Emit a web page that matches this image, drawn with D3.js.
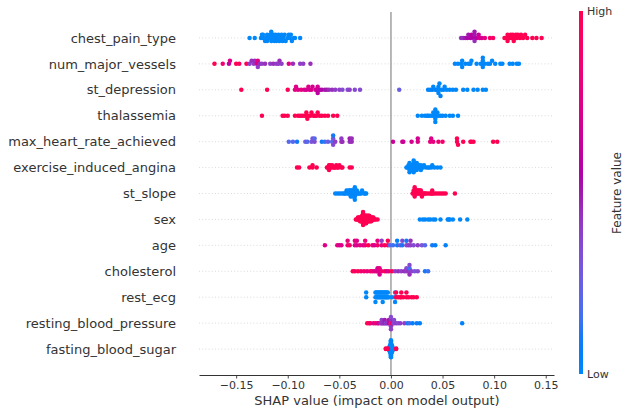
<!DOCTYPE html>
<html><head><meta charset="utf-8">
<script src="https://cdn.jsdelivr.net/npm/d3@7"></script>
<style>body{margin:0;background:#fff}svg{display:block;font-family:"DejaVu Sans",sans-serif}</style>
</head><body><svg id="c" width="632" height="416"></svg>
<script>
const features = ["chest_pain_type","num_major_vessels","st_depression","thalassemia","max_heart_rate_achieved","exercise_induced_angina","st_slope","sex","age","cholesterol","rest_ecg","resting_blood_pressure","fasting_blood_sugar"];
const xTicks = [-0.15,-0.10,-0.05,0.00,0.05,0.10,0.15];
const xLabel = "SHAP value (impact on model output)";
const cbLabels = ["Low","High"];
const cbTitle = "Feature value";

// [shap value, normalised feature value]
const chest_pain_type = [[-0.137,0],[-0.132,0],[-0.126,0],[-0.125,0],[-0.124,0],[-0.124,0],[-0.122,0],[-0.121,0],[-0.120,0],[-0.120,0],[-0.118,0],[-0.117,0],[-0.116,0],[-0.116,0],[-0.115,0],[-0.114,0],[-0.113,0],[-0.112,0],[-0.112,0],[-0.111,0],[-0.110,0],[-0.109,0],[-0.108,0],[-0.107,0],[-0.106,0],[-0.105,0],[-0.104,0],[-0.103,0],[-0.102,0],[-0.100,0],[-0.099,0],[-0.098,0],[-0.097,0],[-0.096,0],[-0.094,0],[-0.093,0],[-0.088,0],
[0.068,0.45],[0.070,0.45],[0.072,0.5],[0.074,0.55],[0.075,0.5],[0.077,0.55],[0.078,0.6],[0.080,0.55],[0.081,0.5],[0.081,0.45],[0.081,0.5],[0.083,0.6],[0.085,0.65],[0.086,0.7],[0.088,0.7],[0.091,0.8],[0.096,0.9],[0.099,0.95],
[0.110,1],[0.112,1],[0.113,1],[0.113,1],[0.115,1],[0.116,1],[0.117,1],[0.118,1],[0.119,1],[0.120,1],[0.121,1],[0.122,1],[0.123,1],[0.125,1],[0.126,1],[0.128,1],[0.130,1],[0.132,1],[0.137,1],[0.141,1],[0.146,1]];
const num_major_vessels = [[-0.171,1],[-0.163,0.85],[-0.157,0.6],[-0.156,0.75],[-0.150,1],[-0.147,0.95],[-0.140,1],[-0.137,0.4],[-0.135,0.45],[-0.133,0.4],[-0.132,0.45],[-0.130,0.75],[-0.129,0.75],[-0.129,0.4],[-0.127,0.45],[-0.125,0.4],[-0.122,0.45],[-0.117,0.4],[-0.114,0.45],[-0.111,0.4],[-0.109,0.4],[-0.108,0.45],[-0.106,0.4],[-0.099,0.75],[-0.095,0.45],[-0.088,0.4],[-0.085,0.4],[-0.078,0.45],
[0.062,0],[0.065,0],[0.068,0],[0.069,0],[0.069,0],[0.072,0],[0.075,0],[0.077,0],[0.078,0],[0.083,0],[0.087,0],[0.089,0],[0.089,0],[0.089,0],[0.089,0],[0.091,0],[0.094,0],[0.096,0],[0.098,0],[0.101,0],[0.106,0],[0.108,0],[0.115,0],[0.118,0],[0.122,0],[0.124,0]];
const st_depression = [[-0.145,1],[-0.120,1],[-0.100,1],[-0.093,0.8],[-0.092,0.75],[-0.090,0.75],[-0.087,0.8],[-0.084,0.75],[-0.082,0.7],[-0.080,0.75],[-0.079,0.7],[-0.077,0.75],[-0.076,0.7],[-0.073,0.7],[-0.072,0.65],[-0.071,0.7],[-0.071,0.6],[-0.069,0.6],[-0.067,0.55],[-0.064,0.5],[-0.062,0.5],[-0.060,0.45],[-0.057,0.45],[-0.054,0.4],[-0.050,0.4],[-0.047,0.35],[-0.042,0.35],[-0.040,0.4],[-0.035,0.35],[-0.030,0.35],
[0.008,0.25],[0.036,0.05],[0.038,0],[0.040,0.05],[0.041,0],[0.043,0],[0.044,0.05],[0.046,0],[0.046,0],[0.046,0],[0.047,0],[0.048,0.05],[0.049,0],[0.051,0],[0.052,0],[0.054,0],[0.057,0],[0.060,0],[0.063,0],[0.070,0],[0.074,0],[0.080,0],[0.084,0],[0.089,0],[0.092,0]];
const thalassemia = [[-0.125,1],[-0.105,1],[-0.103,1],[-0.100,1],[-0.093,1],[-0.090,1],[-0.088,1],[-0.086,0.95],[-0.084,1],[-0.082,1],[-0.082,1],[-0.081,1],[-0.080,1],[-0.078,1],[-0.077,1],[-0.075,1],[-0.074,1],[-0.072,1],[-0.071,1],[-0.069,1],[-0.067,1],[-0.064,1],[-0.061,1],[-0.056,1],[-0.052,1],
[0.026,0],[0.030,0],[0.033,0],[0.035,0],[0.036,0],[0.038,0],[0.040,0],[0.041,0],[0.042,0],[0.043,0],[0.043,0],[0.043,0],[0.043,0],[0.044,0],[0.045,0],[0.046,0],[0.048,0],[0.050,0],[0.053,0],[0.057,0],[0.060,0],[0.065,0]];
const max_heart_rate_achieved = [[-0.099,0.2],[-0.095,0.2],[-0.091,0.1],[-0.083,0.25],[-0.081,0.2],[-0.077,0.3],[-0.076,0.3],[-0.074,0.35],[-0.074,0.2],[-0.067,0.1],[-0.064,0.15],[-0.061,0.25],[-0.057,0.2],[-0.056,0.3],[-0.056,0.35],[-0.056,0.1],[-0.054,0.4],[-0.048,0.45],[-0.048,0.4],[-0.047,0.45],[-0.040,0.45],[-0.040,0.5],[-0.038,0.45],[-0.038,0.45],
[0.002,0.65],[0.011,0.7],[0.012,0.65],[0.020,0.7],[0.026,0.75],[0.026,0.7],[0.038,0.8],[0.039,0.75],[0.041,0.8],[0.046,0.85],[0.050,0.9],[0.064,0.95],[0.064,1],[0.065,1],[0.070,1],[0.077,0.95],[0.078,1],[0.080,1],[0.099,1],[0.103,1]];
const exercise_induced_angina = [[-0.091,1],[-0.089,1],[-0.079,1],[-0.076,1],[-0.076,1],[-0.072,1],[-0.062,1],[-0.061,1],[-0.060,1],[-0.060,1],[-0.059,1],[-0.059,1],[-0.058,1],[-0.057,1],[-0.056,1],[-0.055,1],[-0.054,1],[-0.053,1],[-0.052,1],[-0.051,1],[-0.050,1],[-0.048,1],[-0.047,1],[-0.040,1],[-0.038,1],
[0.015,0],[0.016,0],[0.017,0],[0.017,0],[0.018,0],[0.018,0],[0.018,0],[0.019,0],[0.019,0],[0.019,0],[0.020,0],[0.020,0],[0.021,0],[0.021,0],[0.021,0],[0.022,0],[0.022,0],[0.022,0],[0.023,0],[0.023,0],[0.023,0],[0.024,0],[0.024,0],[0.025,0],[0.025,0],[0.026,0],[0.026,0],[0.027,0],[0.027,0],[0.028,0],[0.029,0],[0.029,0],[0.030,0],[0.031,0],[0.032,0],[0.034,0],[0.036,0],[0.037,0],[0.039,0],[0.040,0],[0.042,0],[0.045,0],[0.048,0]];
const st_slope = [[-0.054,0],[-0.052,0],[-0.050,0.05],[-0.048,0],[-0.046,0],[-0.045,0],[-0.044,0],[-0.043,0.05],[-0.042,0],[-0.041,0],[-0.041,0],[-0.040,0],[-0.040,0],[-0.039,0],[-0.039,0.05],[-0.039,0],[-0.038,0],[-0.038,0],[-0.037,0],[-0.037,0],[-0.037,0],[-0.036,0],[-0.036,0],[-0.035,0],[-0.035,0],[-0.035,0],[-0.034,0],[-0.034,0],[-0.033,0],[-0.033,0],[-0.032,0],[-0.031,0],[-0.030,0],[-0.029,0],[-0.028,0],[-0.026,0],[-0.025,0],[-0.024,0],
[0.021,1],[0.022,1],[0.022,1],[0.023,1],[0.023,1],[0.024,1],[0.024,1],[0.025,1],[0.025,1],[0.026,1],[0.026,1],[0.027,1],[0.027,1],[0.028,1],[0.028,1],[0.029,1],[0.029,1],[0.030,1],[0.031,1],[0.032,1],[0.033,1],[0.034,1],[0.036,1],[0.038,1],[0.039,1],[0.040,1],[0.040,1],[0.041,1],[0.043,1],[0.045,1],[0.047,1],[0.049,1],[0.051,1],[0.053,1],[0.062,1]];
const sex = [[-0.034,1],[-0.033,1],[-0.032,1],[-0.032,1],[-0.031,1],[-0.031,1],[-0.030,1],[-0.030,1],[-0.030,1],[-0.029,1],[-0.029,1],[-0.029,1],[-0.028,1],[-0.028,1],[-0.028,1],[-0.028,1],[-0.027,1],[-0.027,1],[-0.027,1],[-0.027,1],[-0.026,1],[-0.026,1],[-0.026,1],[-0.026,1],[-0.026,1],[-0.025,1],[-0.025,1],[-0.025,1],[-0.025,1],[-0.025,1],[-0.024,1],[-0.024,1],[-0.024,1],[-0.024,1],[-0.024,1],[-0.023,1],[-0.023,1],[-0.023,1],[-0.023,1],[-0.022,1],[-0.022,1],[-0.022,1],[-0.022,1],[-0.021,1],[-0.021,1],[-0.021,1],[-0.021,1],[-0.020,1],[-0.020,1],[-0.020,1],[-0.019,1],[-0.019,1],[-0.019,1],[-0.018,1],[-0.018,1],[-0.017,1],[-0.017,1],[-0.016,1],[-0.015,1],[-0.013,1],
[0.028,0],[0.031,0],[0.033,0],[0.036,0],[0.038,0],[0.041,0],[0.043,0],[0.048,0],[0.055,0],[0.056,0],[0.057,0],[0.060,0],[0.067,0],[0.074,0]];
const age = [[-0.064,0.75],[-0.052,0.8],[-0.050,0.7],[-0.048,0.75],[-0.042,0.85],[-0.042,0.8],[-0.040,0.9],[-0.035,0.75],[-0.035,0.8],[-0.033,0.7],[-0.033,0.75],[-0.030,0.8],[-0.027,0.75],[-0.025,0.8],[-0.025,0.85],[-0.022,1],[-0.018,0.85],[-0.016,0.7],[-0.013,0.9],[-0.013,0.8],[-0.009,0.8],[-0.009,0.4],[-0.006,1],[-0.003,0.95],[-0.003,1],[-0.001,0.2],[0.002,0.15],[0.006,0.1],[0.006,0.05],[0.009,0.3],[0.011,0.1],[0.011,0.35],[0.015,0.35],[0.015,0.1],[0.017,0.4],[0.019,0.4],[0.019,0.45],[0.022,0.35],[0.026,0.4],[0.030,0.3],[0.033,0.2],[0.040,0.1],[0.043,0.05],[0.053,0.05]];
const cholesterol = [[-0.037,1],[-0.035,0.9],[-0.032,1],[-0.029,0.85],[-0.026,0.9],[-0.023,0.8],[-0.020,0.9],[-0.018,0.85],[-0.016,0.75],[-0.014,0.8],[-0.013,0.75],[-0.013,0.7],[-0.011,0.75],[-0.011,0.8],[-0.011,0.7],[-0.009,0.85],[-0.006,1],[-0.004,0.7],[-0.002,0.8],[0.001,1],[0.004,0.4],[0.007,0.45],[0.010,0.4],[0.013,0.45],[0.015,0.4],[0.015,0.35],[0.017,0.45],[0.018,0.4],[0.018,0.15],[0.018,0.45],[0.018,0.35],[0.020,0.4],[0.023,0.3],[0.026,0.35],[0.033,0.1],[0.036,0.15]];
const rest_ecg = [[-0.024,0],[-0.024,0],[-0.015,0],[-0.015,0],[-0.015,0],[-0.014,0],[-0.014,0],[-0.013,0],[-0.013,0],[-0.012,0],[-0.012,0],[-0.011,0],[-0.011,0],[-0.010,0],[-0.010,0],[-0.009,0],[-0.009,0],[-0.008,0],[-0.008,0],[-0.008,0],[-0.007,0],[-0.007,0],[-0.006,0],[-0.006,0],[-0.005,0],[-0.005,0],[-0.004,0],[-0.004,0],[-0.003,0],[-0.003,0],[-0.002,0],[0.001,0],[0.004,0],[0.004,0],[0.004,0],
[0.005,1],[0.005,1],[0.007,1],[0.009,1],[0.010,1],[0.010,1],[0.012,1],[0.015,1],[0.015,1],[0.017,1],[0.020,1],[0.022,1],[0.025,1]];
const resting_blood_pressure = [[-0.023,1],[-0.021,0.95],[-0.020,0.9],[-0.017,0.75],[-0.015,0.85],[-0.013,0.7],[-0.012,0.75],[-0.010,0.45],[-0.009,0.4],[-0.009,0.4],[-0.008,0.45],[-0.007,0.4],[-0.006,0.5],[-0.006,0.5],[-0.005,0.35],[-0.004,0.45],[-0.003,0.4],[-0.002,0.5],[-0.002,0.5],[-0.001,0.7],[0.000,0.4],[0.000,0.45],[0.000,0.4],[0.000,0.35],[0.000,0.4],[0.001,1],[0.002,0.45],[0.003,0.35],[0.003,0.35],[0.005,0.4],[0.007,0.35],[0.009,0.4],[0.013,0.4],[0.016,0.1],[0.018,0.15],[0.021,0.05],[0.025,0.1],[0.028,0.05],[0.069,0.05]];
const fasting_blood_sugar = [[0.000,0],[0.000,0],[0.000,0],[0.000,0],[0.000,0],[0.000,0],[0.000,0],[0.000,0],[0.000,0],[0.000,0],[0.000,0],[0.000,0],[0.000,0],[0.000,0],[0.000,0],[0.000,0],[0.000,0],[0.000,0],[0.000,0],[0.000,0],[0.000,0],[0.000,0],[0.000,0],[0.000,0],[0.000,0],[0.000,0],[0.000,0],[0.000,0],[0.000,0],[0.000,0],
[-0.001,0],[-0.001,0],[-0.001,0],[-0.001,0],[-0.001,0],[-0.001,0],[-0.001,0],[-0.001,0],[-0.001,0],[-0.001,0],[-0.001,0],[-0.001,0],
[0.001,0],[0.001,0],[0.001,0],[0.001,0],[0.001,0],[0.001,0],[0.001,0],[0.001,0],[0.001,0],[0.001,0],[0.001,0],[0.001,0],
[-0.002,0],[-0.002,0],[-0.002,0],[0.002,0],[0.002,0],[0.002,0],
[-0.005,1],[-0.005,1],[-0.003,1],[-0.003,1],[0.005,1],[0.005,1]];

const rows = [chest_pain_type,num_major_vessels,st_depression,thalassemia,max_heart_rate_achieved,exercise_induced_angina,st_slope,sex,age,cholesterol,rest_ecg,resting_blood_pressure,fasting_blood_sugar];

// SHAP red_blue colormap (LCH interpolation)
function shapColor(t){
  const h = 266.93 + t*(380.32-266.93);
  const c = 70 + 20*t;
  const l = t <= 0.5 ? 54 - 28*t : 40 + 28*(t-0.5);
  return d3.hcl(h % 360, c, l).formatHex();
}

// SHAP beeswarm layout
function beeswarm(vals){
  const N = vals.length, nbins = 100;
  const mn = d3.min(vals), mx = d3.max(vals);
  const quant = vals.map(v => Math.round(nbins*(v-mn)/(mx-mn+1e-8)));
  const inds = d3.range(N).sort((a,b) => quant[a]-quant[b] || a-b);
  const ys = new Array(N).fill(0);
  let layer = 0, last = -1;
  for (const i of inds){
    if (quant[i] !== last) layer = 0;
    ys[i] = Math.ceil(layer/2) * ((layer%2)*2-1);
    layer++; last = quant[i];
  }
  const m = d3.max(ys) + 1;
  return ys.map(y => y*0.9*(0.4/m));
}

const svg = d3.select("#c");
const n = features.length;
const x = d3.scaleLinear().domain([-0.186, 0.158]).range([199, 554]);
const y = d3.scaleLinear().domain([-1, n]).range([375, 12]);
const txt = "#333333";

// grid lines
features.forEach((f,i) => {
  const pos = n-1-i;
  svg.append("line").attr("x1",x.range()[0]).attr("x2",x.range()[1])
    .attr("y1",y(pos)).attr("y2",y(pos))
    .attr("stroke","#cccccc").attr("stroke-width",0.7).attr("stroke-dasharray","1,2.2");
});
// zero line
svg.append("line").attr("x1",x(0)).attr("x2",x(0)).attr("y1",y(n)).attr("y2",y(-1))
  .attr("stroke","#a6a6a6").attr("stroke-width",1.6);

// dots
rows.forEach((data,i) => {
  const pos = n-1-i;
  const offs = beeswarm(data.map(d=>d[0]));
  svg.append("g").selectAll("circle").data(data).join("circle")
    .attr("cx", d => x(d[0]))
    .attr("cy", (d,k) => y(pos + offs[k]))
    .attr("r", 2.25)
    .attr("fill", d => shapColor(d[1]));
});

// feature labels
svg.append("g").selectAll("text").data(features).join("text")
  .attr("x",176).attr("y",(d,i)=>y(n-1-i)).attr("dy","0.36em")
  .attr("text-anchor","end").attr("font-size",13).attr("fill",txt).text(d=>d);

// x axis
const ax = svg.append("g").attr("transform","translate(0,375)")
  .call(d3.axisBottom(x).tickValues(xTicks).tickFormat(d3.format(".2f")).tickSize(3.5).tickSizeOuter(0).tickPadding(2.8));
ax.select(".domain").attr("stroke",txt).attr("stroke-width",1);
ax.selectAll(".tick line").attr("stroke",txt).attr("stroke-width",0.9);
ax.selectAll(".tick text").attr("fill",txt).attr("font-size",11).attr("font-family","DejaVu Sans");
svg.append("text").attr("x",377).attr("y",405).attr("text-anchor","middle")
  .attr("font-size",13).attr("fill",txt).text(xLabel);

// colorbar
const grad = svg.append("defs").append("linearGradient").attr("id","cb")
  .attr("x1",0).attr("x2",0).attr("y1",1).attr("y2",0);
d3.range(0,1.0001,0.05).forEach(t => grad.append("stop").attr("offset",t).attr("stop-color",shapColor(t)));
svg.append("rect").attr("x",579).attr("y",11).attr("width",4).attr("height",363).attr("fill","url(#cb)");
svg.append("text").attr("x",587).attr("y",11).attr("dy","0.36em").attr("font-size",11).attr("fill",txt).text(cbLabels[1]);
svg.append("text").attr("x",587).attr("y",374).attr("dy","0.36em").attr("font-size",11).attr("fill",txt).text(cbLabels[0]);
svg.append("text").attr("transform","translate(617,193) rotate(-90)").attr("text-anchor","middle").attr("dy","0.36em")
  .attr("font-size",12).attr("fill",txt).text(cbTitle);
</script></body></html>
